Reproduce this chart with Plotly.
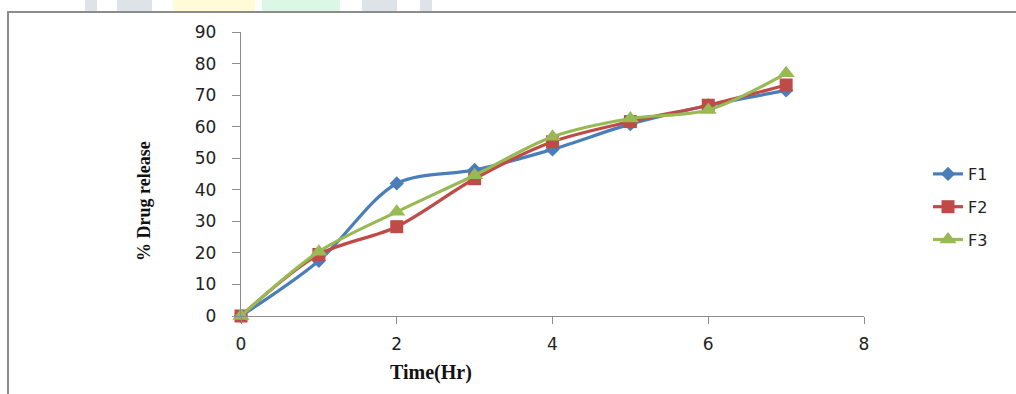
import plotly.graph_objects as go

time_hr = [0, 1, 2, 3, 4, 5, 6, 7]
f1 = [0, 17.5, 42.0, 46.3, 52.8, 60.8, 66.7, 71.5]
f2 = [0, 19.5, 28.3, 43.5, 55.2, 61.6, 66.8, 73.2]
f3 = [0, 20.4, 33.0, 44.6, 56.8, 62.6, 65.3, 76.9]

series = [
    ("F1", f1, "#4A7EBB", "diamond", 11),
    ("F2", f2, "#BE4B48", "square", 13),
    ("F3", f3, "#98B954", "triangle-up", 15),
]

fig = go.Figure()
for i, (name, vals, col, sym, sz) in enumerate(series):
    fig.add_trace(go.Scatter(
        x=time_hr, y=vals, name=name, mode="lines+markers",
        line=dict(color=col, width=3.2, shape="spline", smoothing=0.9),
        marker=dict(symbol=sym, size=sz, color=col),
        cliponaxis=False, legendgroup=name,
    ))

W, H = 1016, 394
L, R, T, B = 241, 152, 32, 78
pw, ph = W - L - R, H - T - B

def px(x):
    return (x - L) / pw

def py(y):
    return (H - B - y) / ph

shapes = []
# watermark fragments above the frame
for x0, x1, c in [(85, 97, "#dde3e6"), (117, 152, "#dde3e6"), (173, 255, "#fffbd6"),
                  (262, 340, "#dcf7e6"), (362, 397, "#dde3e6"), (420, 432, "#dde3e6")]:
    shapes.append(dict(type="rect", xref="paper", yref="paper", x0=px(x0), x1=px(x1),
                       y0=py(12), y1=py(-5), line=dict(width=0), fillcolor=c, layer="below"))
# chart frame
shapes.append(dict(type="rect", xref="paper", yref="paper", x0=px(8), x1=px(1030),
                   y0=py(410), y1=py(12), line=dict(color="#8c8c8c", width=2),
                   fillcolor="rgba(0,0,0,0)", layer="below"))

fig.update_layout(
    width=W, height=H,
    margin=dict(l=L, r=R, t=T, b=B),
    paper_bgcolor="white", plot_bgcolor="white",
    shapes=shapes,
    showlegend=True,
    legend=dict(x=px(928), y=py(157), xanchor="left", yanchor="top",
                font=dict(family="DejaVu Sans", size=16, color="#222"),
                tracegroupgap=9, bgcolor="rgba(0,0,0,0)"),
    annotations=[
        dict(text="<b>Time(Hr)</b>", xref="paper", yref="paper", x=px(431), y=py(372),
             xanchor="center", yanchor="middle",
             showarrow=False, font=dict(family="Liberation Serif", size=20, color="#111")),
        dict(text="<b>% Drug release</b>", xref="paper", yref="paper", x=px(144), y=py(201),
             xanchor="center", yanchor="middle",
             showarrow=False, textangle=-90,
             font=dict(family="Liberation Serif", size=18, color="#111")),
    ],
)
fig.update_xaxes(range=[0, 8], dtick=2, showgrid=False, zeroline=False, showline=True,
                 linecolor="#8c8c8c", linewidth=1.3, ticks="outside", ticklen=7,
                 tickcolor="#8c8c8c", ticklabelstandoff=5,
                 tickfont=dict(family="DejaVu Sans", size=17, color="#222"))
fig.update_yaxes(range=[0, 90], dtick=10, showgrid=False, zeroline=False, showline=True,
                 linecolor="#8c8c8c", linewidth=1.3, ticks="outside", ticklen=8,
                 tickcolor="#8c8c8c", ticklabelstandoff=12,
                 tickfont=dict(family="DejaVu Sans", size=17, color="#222"))

fig.write_html("out.html")
